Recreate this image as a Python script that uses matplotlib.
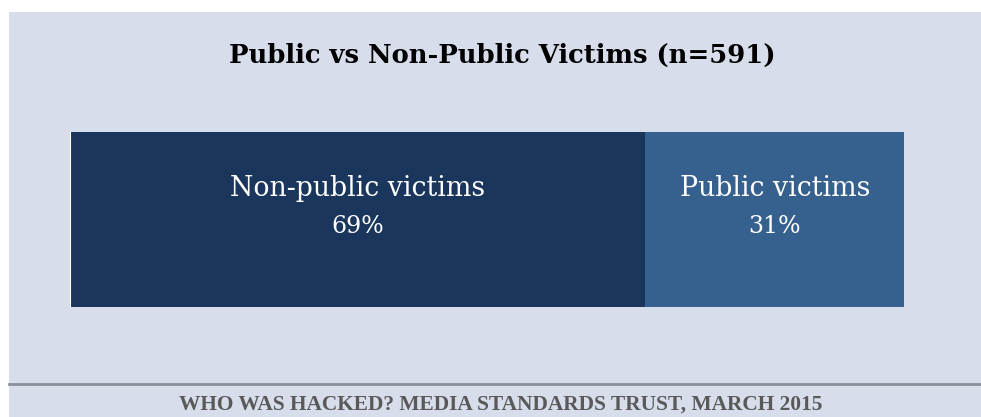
import matplotlib
matplotlib.use("Agg")
import matplotlib.pyplot as plt
from matplotlib.patches import Rectangle

categories = ["Non-public victims", "Public victims"]
values = [69, 31]
colors = ["#1A365D", "#36618F"]
title = "Public vs Non-Public Victims (n=591)"
source = "WHO WAS HACKED? MEDIA STANDARDS TRUST, MARCH 2015"

W, H = 981, 417
fig = plt.figure(figsize=(W / 100, H / 100), dpi=100, facecolor="white")

# background panel
fig.patches.append(Rectangle((9 / W, 0), 1 - 9 / W, (H - 12) / H,
                             transform=fig.transFigure, facecolor="#D7DDEA",
                             edgecolor="none", zorder=-5))
# separator line
fig.add_artist(plt.Line2D([9 / W, 1], [1 - 384 / H] * 2, transform=fig.transFigure,
                          color="#8A8F99", lw=2, zorder=1))

ax = fig.add_axes([70 / W, 1 - 307 / H, 834 / W, 175 / H])
ax.set_zorder(5)
ax.patch.set_visible(False)
ax.set_xlim(0, sum(values))
ax.set_ylim(-0.5, 0.5)
left = 0
for cat, v, c in zip(categories, values, colors):
    ax.barh(0, v, left=left, height=1.0, color=c, edgecolor="none")
    cx = left + v / 2
    ax.text(cx, 0.18, cat, ha="center", va="center", color="white",
            fontsize=19.3, family="DejaVu Serif")
    ax.text(cx, -0.04, f"{v}%", ha="center", va="center", color="white",
            fontsize=17, family="DejaVu Serif")
    left += v
ax.axis("off")
ax.axvline(0, color="white", lw=1.5)

fig.text(502 / W, 1 - 55 / H, title, ha="center", va="center",
         fontsize=18.6, fontweight="bold", family="DejaVu Serif", color="black")
fig.text(501 / W, 1 - 405 / H, source, ha="center", va="center",
         fontsize=15.4, fontweight="bold", family="Liberation Serif", color="#595959")

fig.savefig("out.png", dpi=100, facecolor="white")
